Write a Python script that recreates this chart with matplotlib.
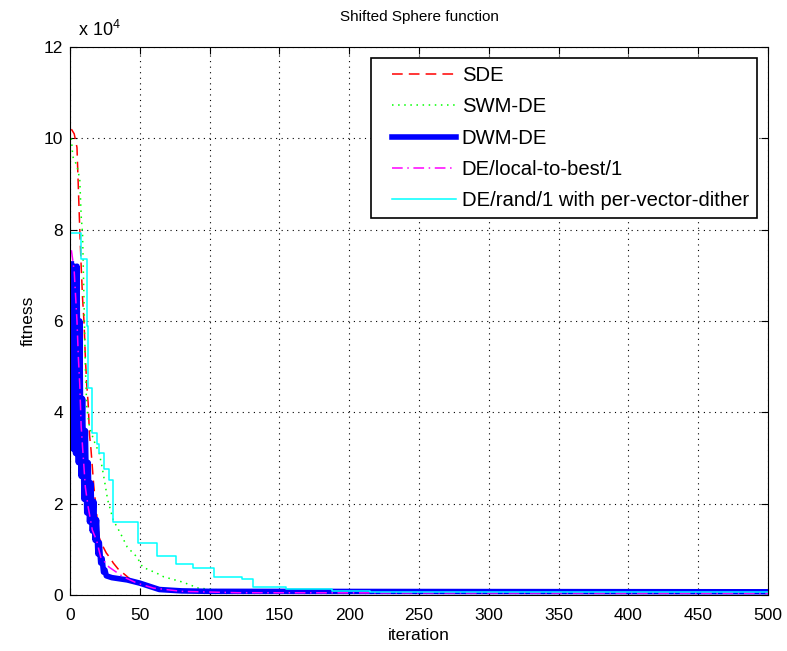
import matplotlib
matplotlib.use("Agg")
import matplotlib.pyplot as plt
from matplotlib.ticker import FuncFormatter
from matplotlib.legend_handler import HandlerLine2D
from matplotlib.lines import Line2D

plt.rcParams['font.family'] = ['Liberation Sans', 'DejaVu Sans']
plt.rcParams['mathtext.default'] = 'regular'

# ---- data (fitness values, raw units) ----
sde_it = [1, 3, 5, 6, 7, 8, 9, 10, 11, 12, 13, 14, 15, 16, 17, 18, 19, 20, 21, 23, 26, 29, 31, 35, 38, 43, 48, 55, 64, 80, 100, 150, 500]
sde_val = [102000, 101000, 98000, 89000, 80000, 72000, 65000, 60000, 52000, 46000, 42000, 35000, 32000, 28000, 24000, 21000, 18000, 15000, 12500, 11000, 9200, 8000, 7000, 5500, 4800, 3500, 2600, 2000, 1500, 1000, 700, 500, 400]

swm_it = [1, 2, 5, 7, 8, 9, 10, 11, 12, 14, 17, 21, 23, 25, 27, 31, 36, 41, 48, 52, 62, 67, 81, 92, 107, 130, 500]
swm_val = [100000, 96000, 94000, 91000, 83000, 79000, 65000, 50000, 41000, 36800, 33900, 31000, 28000, 24500, 20800, 16400, 13600, 10500, 8300, 6100, 4800, 4000, 2800, 1500, 1100, 700, 500]

dwm_it = [1, 2, 3, 4, 5, 6, 7, 8, 9, 10, 11, 12, 13, 14, 15, 16, 17, 18, 19, 20, 21, 22, 23, 24, 25, 26, 30, 41, 50, 64, 80, 100, 500]
dwm_val = [72500, 32000, 72000, 31000, 72000, 29000, 60000, 26000, 43000, 21000, 36000, 18000, 29000, 16000, 24500, 14000, 20500, 12000, 16500, 9000, 11500, 7000, 8000, 5000, 5500, 4200, 3800, 3300, 2600, 1200, 900, 800, 700]

ltb_it = [1, 3, 5, 6, 7, 8, 9, 10, 11, 13, 16, 19, 22, 28, 38, 48, 60, 80, 120, 500]
ltb_val = [75500, 71000, 60000, 52000, 46000, 37000, 32400, 28000, 23600, 19300, 14200, 12000, 8300, 6100, 4000, 2600, 1500, 800, 500, 400]

pvd_it = [1, 8, 12, 13, 16, 19, 21, 24, 28, 31, 49, 62, 76, 88, 103, 123, 131, 155, 188, 215, 500]
pvd_val = [79300, 73600, 59000, 45300, 35500, 33000, 31000, 27500, 25200, 16000, 11400, 8500, 6800, 5900, 4000, 3500, 1700, 1300, 900, 600, 600]

labels = ['SDE', 'SWM-DE', 'DWM-DE', 'DE/local-to-best/1', 'DE/rand/1 with per-vector-dither']
x_ticks = [0, 50, 100, 150, 200, 250, 300, 350, 400, 450, 500]
y_ticks = [0, 20000, 40000, 60000, 80000, 100000, 120000]

fig = plt.figure(figsize=(7.87, 6.51), dpi=100)
ax = fig.add_axes([70 / 787, 56 / 651, 698 / 787, 548 / 651])

ax.plot(sde_it, sde_val, color='#ff0000', ls=(0, (7, 4)), lw=1.1, label=labels[0])
ax.plot(swm_it, swm_val, color='#00ff00', ls=(0, (1, 3)), lw=1.1, label=labels[1])
ax.plot(dwm_it, dwm_val, color='#0000ff', ls='-', lw=4.0, label=labels[2])
ax.plot(ltb_it, ltb_val, color='#ff00ff', ls=(0, (7, 3, 1, 3)), lw=1.1, label=labels[3])
ax.plot(pvd_it, pvd_val, color='#00ffff', ls='-', lw=1.1, drawstyle='steps-post', label=labels[4])

ax.set_xlim(0, 500)
ax.set_ylim(0, 120000)
ax.set_xticks(x_ticks)
ax.set_yticks(y_ticks)
ax.yaxis.set_major_formatter(FuncFormatter(lambda v, p: f"{v / 1e4:g}"))
ax.tick_params(direction='in', length=5, width=0.8, labelsize=12.5, top=True, right=True)
ax.tick_params(axis='x', pad=9)
ax.tick_params(axis='y', pad=5)
ax.grid(True, color='black', ls=(0, (1, 4)), lw=0.8)
for s in ax.spines.values():
    s.set_linewidth(0.8)

ax.set_title('Shifted Sphere function', fontsize=11, pad=19)
ax.set_xlabel('iteration', fontsize=12.5, labelpad=4)
ax.set_ylabel('fitness', fontsize=12.5, labelpad=6)
ax.text(0.011, 1.013, r'x 10$^{4}$', transform=ax.transAxes, fontsize=13, ha='left', va='bottom')

leg = ax.legend(loc='upper right', fontsize=14.6, handlelength=3.75, borderaxespad=0.55,
                fancybox=False, edgecolor='black', framealpha=1, labelspacing=0.6,
                borderpad=0.4, handletextpad=0.3,
                handler_map={Line2D: HandlerLine2D(xpad=0.6)})
leg.get_frame().set_linewidth(1.2)

fig.savefig('out.png', dpi=100)
